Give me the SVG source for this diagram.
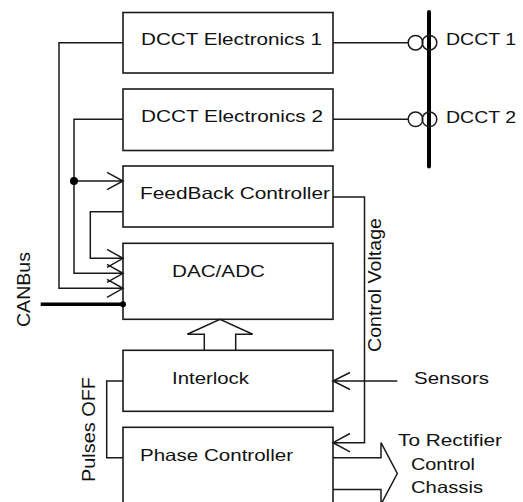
<svg xmlns="http://www.w3.org/2000/svg" width="523" height="502" viewBox="0 0 523 502">
<style>
.box{fill:#fff;stroke:#1a1a1a;stroke-width:1.6}
.ln{fill:none;stroke:#1a1a1a;stroke-width:1.5}
.thick{fill:none;stroke:#000;stroke-width:4;stroke-linecap:round}
.t{font-family:"Liberation Sans",Arial,sans-serif;font-size:16.5px;fill:#111}
.r{font-family:"Liberation Sans",Arial,sans-serif;font-size:19px;fill:#111}
</style>
<rect width="523" height="502" fill="#fff"/>
<g id="dcct-el-1"><rect class="box" x="123" y="12.5" width="210" height="60.5"/><text class="t" x="141" y="45" textLength="181" lengthAdjust="spacingAndGlyphs">DCCT Electronics 1</text></g>
<g id="dcct-el-2"><rect class="box" x="123" y="89" width="210" height="61.5"/><text class="t" x="141" y="122" textLength="182" lengthAdjust="spacingAndGlyphs">DCCT Electronics 2</text></g>
<g id="feedback"><rect class="box" x="123" y="166" width="210" height="61"/><text class="t" x="140" y="199" textLength="190" lengthAdjust="spacingAndGlyphs">FeedBack Controller</text></g>
<g id="dacadc"><rect class="box" x="123" y="243.3" width="210" height="76"/><text class="t" x="172" y="277" textLength="93" lengthAdjust="spacingAndGlyphs">DAC/ADC</text></g>
<g id="interlock"><rect class="box" x="123" y="350.3" width="210" height="61"/><text class="t" x="172" y="384" textLength="77" lengthAdjust="spacingAndGlyphs">Interlock</text></g>
<g id="phase"><rect class="box" x="123" y="427.3" width="210" height="100"/><text class="t" x="140" y="461" textLength="153" lengthAdjust="spacingAndGlyphs">Phase Controller</text></g>
<g id="dcct-bar"><line class="thick" x1="429" y1="12" x2="429" y2="166.5"/></g>
<g id="dcct1"><circle class="ln" cx="415.5" cy="42.7" r="7.3"/><circle class="ln" cx="429.5" cy="42.7" r="7.3"/><text class="t" x="446" y="45" textLength="70" lengthAdjust="spacingAndGlyphs">DCCT 1</text></g>
<g id="dcct2"><circle class="ln" cx="415.5" cy="119.3" r="7.3"/><circle class="ln" cx="429.5" cy="119.3" r="7.3"/><text class="t" x="446" y="122.5" textLength="70" lengthAdjust="spacingAndGlyphs">DCCT 2</text></g>
<g id="canbus"><text class="r" transform="translate(30,327) rotate(-90)" textLength="75" lengthAdjust="spacingAndGlyphs">CANBus</text></g>
<g id="sensors"><text class="t" x="414" y="384" textLength="75" lengthAdjust="spacingAndGlyphs">Sensors</text></g>
<g id="rectifier"><text class="t" x="398" y="445.7" textLength="104" lengthAdjust="spacingAndGlyphs">To Rectifier</text><text class="t" x="411" y="469.5" textLength="64" lengthAdjust="spacingAndGlyphs">Control</text><text class="t" x="411" y="493" textLength="72" lengthAdjust="spacingAndGlyphs">Chassis</text></g>
<g id="connectors">
<path class="ln" d="M123 42.7H59V288.3H123M107 279.3L123 288.3L107 297.3"/>
<path class="ln" d="M123 119.3H74V273.3H123M107 264.3L123 273.3L107 282.3"/>
<path class="ln" d="M74 181H123M107 172.3L123 181L107 189.7"/>
<circle cx="74" cy="181" r="4" fill="#000"/>
<path class="ln" d="M123 211.7H90.3V258.3H123M107 249.3L123 258.3L107 267.3"/>
<line x1="40.7" y1="304.3" x2="123" y2="304.3" stroke="#000" stroke-width="3.5"/>
<circle cx="123" cy="304.3" r="3" fill="#000"/>
<path class="ln" d="M333 42.7H408.2M333 119.3H408.2"/>
<path class="ln" d="M333 197H364.5V442.7H333M350 433.5L333 442.7L350 451.9"/>
<path class="ln" d="M397.3 381H333M350 372.5L333 381L350 389.5"/>
<path class="ln" d="M123 381H106.7V457.7H123"/>
<path class="ln" d="M204.3 350.3V334.3H187.3L220 319.3L252.7 334.3H235.7V350.3"/>
<path class="ln" d="M333 457.7H381V442.7L397.3 473.5L381 504.3V489.5H333"/>
<text class="r" transform="translate(381,352) rotate(-90)" textLength="134" lengthAdjust="spacingAndGlyphs">Control Voltage</text>
<text class="r" transform="translate(95,482) rotate(-90)" textLength="105" lengthAdjust="spacingAndGlyphs">Pulses OFF</text>
</g>
</svg>
